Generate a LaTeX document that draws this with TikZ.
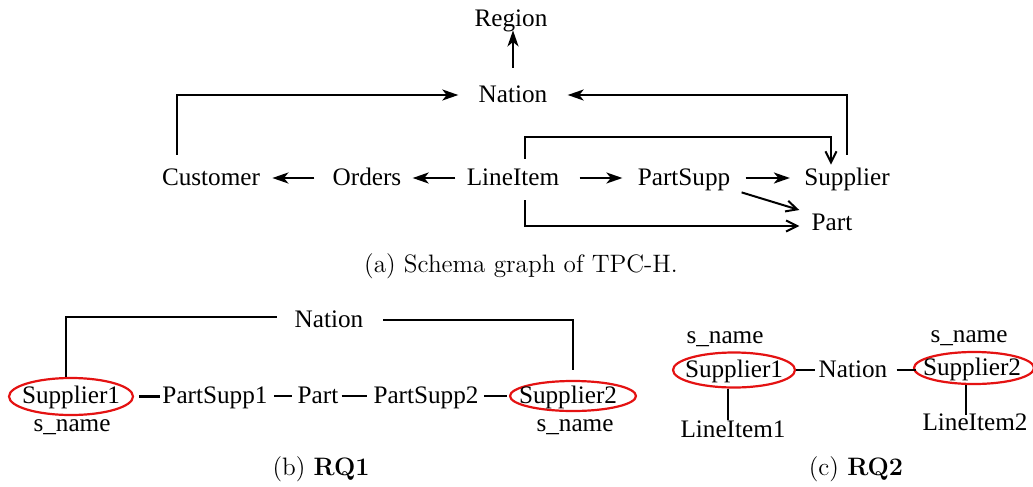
\documentclass[tikz,border=0pt]{standalone}
\usepackage{fontspec}
\newfontfamily\tnr{Liberation Serif}
\usetikzlibrary{arrows.meta,shapes.geometric}
\definecolor{ered}{RGB}{228,18,18}
\begin{document}
\begin{tikzpicture}[x=0.5pt,y=-0.5pt,
  lbl/.style={font=\tnr\fontsize{12.6}{15}\selectfont, inner sep=0pt, text height=7pt, text depth=0pt, anchor=base},
  captxt/.style={font=\fontsize{12.6}{15}\selectfont, inner sep=0pt, anchor=base},
  ell/.style={font=\tnr\fontsize{12.6}{15}\selectfont, inner sep=0pt, text height=7pt, text depth=0pt, anchor=center,
              ellipse, draw=ered, line width=1.1pt, minimum width=62pt, minimum height=18.5pt},
  arr/.style={line width=1.1pt, -{Stealth[length=8pt,width=5.5pt,inset=2.2pt]}},
  oarr/.style={line width=1pt, -{Straight Barb[length=5.5pt,width=5.5pt]}},
  ln/.style={line width=1.1pt}]
\useasboundingbox (0,0) rectangle (1033,487);

% ---------- (a) ----------
\node[lbl] (region) at (511,26) {Region};
\node[lbl] (nation) at (513,102) {Nation};
\node[lbl] (customer) at (211,185) {Customer};
\node[lbl] (orders) at (367,185) {Orders};
\node[lbl] (lineitem) at (513,185) {LineItem};
\node[lbl] (partsupp) at (684,185) {PartSupp};
\node[lbl] (supplier) at (847,185) {Supplier};
\node[lbl] (part) at (832,230) {Part};
\node[captxt] (capa) at (521,272) {(a) Schema graph of TPC-H.};

\draw[arr, shorten <=10pt, shorten >=2pt] (nation.north) -- (nation.north |- region.south);
\draw[arr, shorten <=8pt, shorten >=10pt] ([xshift=7.5pt]customer.north west) |- (nation.west);
\draw[arr, shorten <=8pt, shorten >=10pt] (supplier.north) |- (nation.east);
\draw[arr, shorten <=9pt, shorten >=6pt] (orders.west) -- (customer.east);
\draw[arr, shorten <=5.5pt, shorten >=5.5pt] (lineitem.west) -- (orders.east);
\draw[arr, shorten <=10pt, shorten >=7.5pt] (lineitem.east) -- (partsupp.west);
\draw[arr, shorten <=7.5pt, shorten >=7pt] (partsupp.east) -- (supplier.west);
\draw[oarr, shorten <=6pt, shorten >=3pt] ([xshift=6pt]lineitem.north) -- ++(0,-34) -| ([xshift=-8pt]supplier.north);
\draw[oarr, shorten <=7.5pt, shorten >=6pt] ([xshift=6pt]lineitem.south) |- ([yshift=-1.5pt]part.west);
\draw[oarr] ([shift={(11,7)}]partsupp.south east) -- ([shift={(-12,-13)}]part.west);

% ---------- (b) ----------
\node[lbl] (nationb) at (329,327) {Nation};
\node[ell] (s1b) at (71,396.5) {\makebox[0pt]{Supplier1}};
\node[ell, minimum width=63pt, minimum height=15pt] (s2b) at (573,396) {\makebox[0pt]{Supplier2\hspace{5pt}}};
\node[lbl] (ps1) at (215,403) {PartSupp1};
\node[lbl] (partb) at (318,403) {Part};
\node[lbl] (ps2) at (426,403) {PartSupp2};
\node[lbl] (sn1b) at (72,431) {s\_name};
\node[lbl] (sn2b) at (575,431) {s\_name};
\node[captxt] (capb) at (321,475) {(b) \textbf{RQ1}};

\draw[ln, shorten >=8.5pt] ([xshift=-2.5pt]s1b.north) |- ([yshift=1.5pt]nationb.west);
\draw[ln, shorten <=5pt, shorten >=9.5pt] (s2b.north) |- (nationb.east);
\draw[ln, shorten <=2.5pt, shorten >=1pt] (s1b.east) -- (s1b.east -| ps1.west);
\draw[ln, shorten <=3pt, shorten >=2.5pt] (ps1.east) -- (partb.west);
\draw[ln, shorten <=1.5pt, shorten >=3pt] (partb.east) -- (ps2.west);
\draw[ln, shorten <=2.5pt, shorten >=1pt] (ps2.east) -- (ps2.east -| s2b.west);

% ---------- (c) ----------
\node[ell, minimum width=61pt, minimum height=17.5pt] (s1c) at (734,370) {\makebox[0pt]{Supplier1}};
\node[ell, minimum width=60pt, minimum height=16pt] (s2c) at (974,368) {\makebox[0pt]{Supplier2\hspace{2pt}}};
\node[lbl] (nationc) at (853,377) {Nation};
\node[lbl] (sn1c) at (725,343) {s\_name};
\node[lbl] (sn2c) at (969,342) {s\_name};
\node[lbl] (li1c) at (733,437) {LineItem1};
\node[lbl] (li2c) at (975,430) {LineItem2};
\node[captxt] (capc) at (856,475) {(c) \textbf{RQ2}};

\draw[ln, shorten >=1.5pt] (s1c.east) -- (s1c.east -| nationc.west);
\draw[ln, shorten <=4.5pt, shorten >=-1.5pt] (nationc.east) -- (nationc.east -| s2c.west);
\draw[ln, shorten >=1.5pt] ([xshift=-3pt]s1c.south) -- ([xshift=-3pt]s1c.south |- li1c.north);
\draw[ln, shorten >=0.5pt] ([xshift=-4pt]s2c.south) -- ([xshift=-4pt]s2c.south |- li2c.north);
\end{tikzpicture}
\end{document}
